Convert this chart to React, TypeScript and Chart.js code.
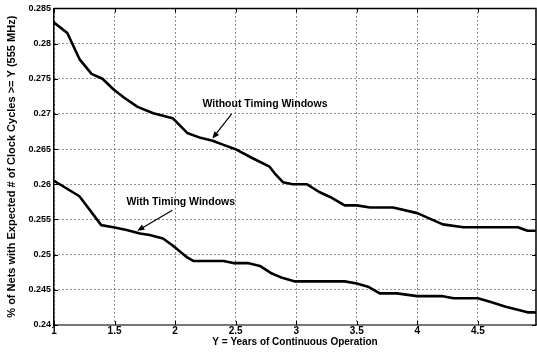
import React, { useEffect, useRef } from "react";
import { Chart, registerables } from "chart.js";

Chart.register(...registerables);

// ---- data ----
const YEARS_WITHOUT = [1.0, 1.11, 1.21, 1.31, 1.4, 1.49, 1.58, 1.69, 1.82, 1.98, 2.1, 2.21, 2.31, 2.4, 2.51, 2.64, 2.78, 2.83, 2.89, 2.97, 3.09, 3.19, 3.28, 3.4, 3.5, 3.61, 3.8, 4.0, 4.21, 4.38, 4.83, 4.91, 4.99];
const NETS_WITHOUT = [0.283, 0.2815, 0.2778, 0.2757, 0.275, 0.2735, 0.2723, 0.271, 0.2701, 0.2694, 0.2673, 0.2666, 0.2662, 0.2656, 0.2649, 0.2637, 0.2625, 0.2614, 0.2603, 0.26, 0.26, 0.2589, 0.2582, 0.257, 0.257, 0.2567, 0.2567, 0.2559, 0.2543, 0.2539, 0.2539, 0.2534, 0.2534];

const YEARS_WITH = [1.0, 1.21, 1.39, 1.49, 1.6, 1.71, 1.79, 1.9, 1.98, 2.1, 2.15, 2.4, 2.48, 2.6, 2.7, 2.79, 2.87, 2.99, 3.4, 3.5, 3.6, 3.69, 3.83, 4.0, 4.21, 4.3, 4.5, 4.6, 4.73, 4.91, 4.99];
const NETS_WITH = [0.2605, 0.2583, 0.2542, 0.2539, 0.2535, 0.253, 0.2528, 0.2523, 0.2513, 0.2496, 0.2491, 0.2491, 0.2488, 0.2488, 0.2484, 0.2474, 0.2468, 0.2462, 0.2462, 0.2459, 0.2454, 0.2445, 0.2445, 0.2441, 0.2441, 0.2438, 0.2438, 0.2433, 0.2426, 0.2418, 0.2418];

const X_TICKS = [1, 1.5, 2, 2.5, 3, 3.5, 4, 4.5];
const Y_TICKS = [0.24, 0.245, 0.25, 0.255, 0.26, 0.265, 0.27, 0.275, 0.28, 0.285];

const X_TITLE = "Y = Years of Continuous Operation";
const Y_TITLE = "% of Nets with Expected # of Clock Cycles >= Y (555 MHz)";

const LABEL_WITHOUT = "Without Timing Windows";
const LABEL_WITH = "With Timing Windows";

// annotation anchors in data coordinates: [textX, textY, arrowFromX, arrowFromY, arrowToX, arrowToY]
const ANNOT_WITHOUT = [2.226, 0.2714, 2.467, 0.27, 2.308, 0.2665];
const ANNOT_WITH = [1.598, 0.2575, 1.977, 0.2563, 1.688, 0.2534];

const FONT = "'Liberation Sans', Arial, Helvetica, sans-serif";

const framePlugin = {
  id: "frame",
  afterDraw(chart: any) {
    const { ctx, chartArea: a, scales } = chart;
    const xs = scales.x;
    const ys = scales.y;
    ctx.save();
    ctx.strokeStyle = "#000";
    ctx.lineWidth = 1.5;
    ctx.beginPath();
    ctx.moveTo(a.left, a.top);
    ctx.lineTo(a.right, a.top);
    ctx.lineTo(a.right, a.bottom);
    ctx.stroke();

    ctx.lineWidth = 1;
    ctx.beginPath();
    X_TICKS.forEach((v) => {
      const px = Math.round(xs.getPixelForValue(v)) + 0.5;
      ctx.moveTo(px, a.bottom);
      ctx.lineTo(px, a.bottom - 4);
      ctx.moveTo(px, a.top);
      ctx.lineTo(px, a.top + 4);
    });
    Y_TICKS.forEach((v) => {
      const py = Math.round(ys.getPixelForValue(v)) + 0.5;
      ctx.moveTo(a.left, py);
      ctx.lineTo(a.left + 4, py);
      ctx.moveTo(a.right, py);
      ctx.lineTo(a.right - 4, py);
    });
    ctx.stroke();

    const drawAnnot = (text: string, an: number[]) => {
      const tx = xs.getPixelForValue(an[0]);
      const ty = ys.getPixelForValue(an[1]);
      ctx.fillStyle = "#000";
      ctx.font = `bold 10.5px ${FONT}`;
      ctx.textAlign = "left";
      ctx.textBaseline = "middle";
      ctx.fillText(text, tx, ty);
      const x0 = xs.getPixelForValue(an[2]);
      const y0 = ys.getPixelForValue(an[3]);
      const x1 = xs.getPixelForValue(an[4]);
      const y1 = ys.getPixelForValue(an[5]);
      const ang = Math.atan2(y1 - y0, x1 - x0);
      const hl = 7;
      const hw = 3;
      ctx.lineWidth = 1.2;
      ctx.beginPath();
      ctx.moveTo(x0, y0);
      ctx.lineTo(x1 - Math.cos(ang) * hl * 0.8, y1 - Math.sin(ang) * hl * 0.8);
      ctx.stroke();
      ctx.beginPath();
      ctx.moveTo(x1, y1);
      ctx.lineTo(
        x1 - Math.cos(ang) * hl - Math.sin(ang) * hw,
        y1 - Math.sin(ang) * hl + Math.cos(ang) * hw
      );
      ctx.lineTo(
        x1 - Math.cos(ang) * hl + Math.sin(ang) * hw,
        y1 - Math.sin(ang) * hl - Math.cos(ang) * hw
      );
      ctx.closePath();
      ctx.fill();
    };
    drawAnnot(LABEL_WITHOUT, ANNOT_WITHOUT);
    drawAnnot(LABEL_WITH, ANNOT_WITH);
    ctx.restore();
  },
};

const fmt = (v: number) => String(Number(v.toFixed(3)));

export default function App() {
  const ref = useRef<HTMLCanvasElement | null>(null);

  useEffect(() => {
    if (!ref.current) return;
    const toPts = (xs: number[], ys: number[]) => xs.map((x, i) => ({ x, y: ys[i] }));
    const lineStyle = {
      borderColor: "#000",
      borderWidth: 2.6,
      pointRadius: 0,
      tension: 0,
      fill: false,
      borderJoinStyle: "round" as const,
      borderCapStyle: "round" as const,
    };
    const chart = new Chart(ref.current, {
      type: "line",
      data: {
        datasets: [
          { label: LABEL_WITHOUT, data: toPts(YEARS_WITHOUT, NETS_WITHOUT), ...lineStyle },
          { label: LABEL_WITH, data: toPts(YEARS_WITH, NETS_WITH), ...lineStyle },
        ],
      },
      options: {
        responsive: false,
        animation: false,
        layout: { padding: { top: 7, right: 1, left: 0, bottom: 0 } },
        plugins: { legend: { display: false }, tooltip: { enabled: false }, title: { display: false } },
        scales: {
          x: {
            type: "linear",
            min: 1,
            max: 4.98,
            afterBuildTicks: (s: any) => {
              s.ticks = X_TICKS.map((v) => ({ value: v }));
            },
            afterFit: (s: any) => {
              s.height = 27;
            },
            grid: {
              color: "#222",
              lineWidth: 1,
              drawTicks: false,
            },
            border: { display: true, color: "#777", width: 2, dash: [1, 3] } as any,
            ticks: {
              padding: 0,
              color: "#000",
              font: { family: FONT, size: 10, weight: "bold" },
              callback: (v: any) => fmt(Number(v)),
              maxRotation: 0,
              autoSkip: false,
            },
            title: {
              display: true,
              text: X_TITLE,
              color: "#000",
              font: { family: FONT, size: 10, weight: "bold" },
              padding: { top: 0, bottom: 4 },
            },
          },
          y: {
            type: "linear",
            min: 0.24,
            max: 0.285,
            afterBuildTicks: (s: any) => {
              s.ticks = Y_TICKS.map((v) => ({ value: v }));
            },
            afterFit: (s: any) => {
              s.width = 54;
            },
            grid: {
              color: "#222",
              lineWidth: 1,
              drawTicks: false,
            },
            border: { display: true, color: "#000", width: 1.5, dash: [1, 3] } as any,
            ticks: {
              padding: 3,
              color: "#000",
              font: { family: FONT, size: 9, weight: "bold" },
              callback: (v: any) => fmt(Number(v)),
              autoSkip: false,
            },
            title: {
              display: true,
              text: Y_TITLE,
              color: "#000",
              font: { family: FONT, size: 11, weight: "bold" },
              padding: { top: 5, bottom: 0 },
            },
          },
        },
      },
      plugins: [framePlugin],
    });
    return () => chart.destroy();
  }, []);

  return (
    <div style={{ position: "fixed", left: 0, top: 0, width: 537, height: 352, background: "#fff" }}>
      <canvas ref={ref} width={537} height={352} style={{ display: "block" }} />
    </div>
  );
}
